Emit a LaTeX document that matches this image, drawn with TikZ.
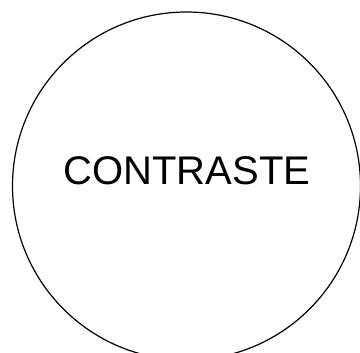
\documentclass[tikz,border=0pt]{standalone}
\usepackage{fontspec}
\setmainfont{Liberation Sans}
\usetikzlibrary{positioning}

\begin{document}
\begin{tikzpicture}[x=1pt, y=-1pt]
  % Bounding box
  \useasboundingbox (0,0) rectangle (360,353);

  % Circle
  \node[circle, draw=black, line width=1.2pt, minimum size=348pt, inner sep=0pt] (ring) at (186.5,186) {};

  % Label
  \node[anchor=base, inner sep=0pt, font=\fontsize{40}{48}\selectfont] (label) at (187,185) {CONTRASTE};
\end{tikzpicture}
\end{document}
